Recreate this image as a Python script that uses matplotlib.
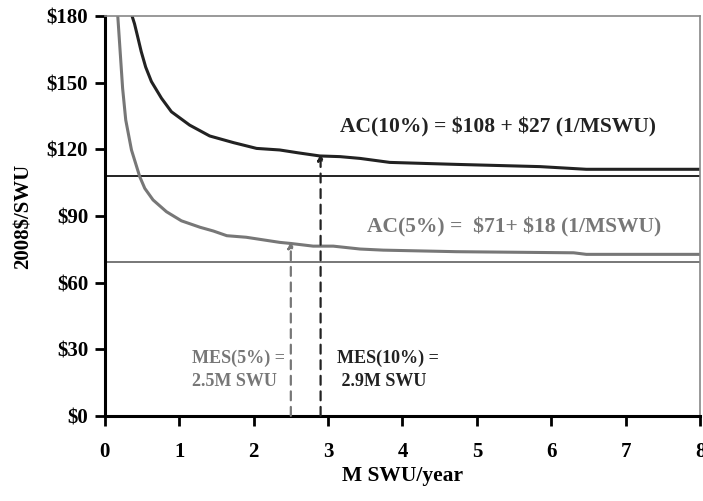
import matplotlib.pyplot as plt

# values
x_10 = [0.367, 0.40, 0.44, 0.49, 0.55, 0.627, 0.762, 0.896, 1.14, 1.41, 1.73, 2.04, 2.35, 2.6, 2.89,
        3.16, 3.43, 3.83, 4.73, 5.85, 6.47, 8.0]
ac_10 = [180, 176.5, 171.0, 164.0, 157.0, 150.5, 143.0, 136.9, 130.9, 126.0, 123.0, 120.4, 119.7, 118.4, 117.0,
         116.7, 115.9, 114.1, 113.2, 112.2, 111.0, 111.0]
x_5 = [0.175, 0.195, 0.215, 0.24, 0.282, 0.359, 0.47, 0.538, 0.649, 0.829, 1.03, 1.28, 1.46, 1.64, 1.9, 2.35,
       2.5, 2.8, 3.07, 3.43, 3.74, 4.73, 6.3, 6.47, 8.0]
ac_5 = [180, 170.0, 160.0, 147.5, 133.2, 119.7, 107.7, 102.4, 97.2, 91.9, 87.8, 84.9, 83.2, 81.1, 80.4, 78.1,
        77.6, 76.4, 76.4, 75.1, 74.6, 73.9, 73.4, 72.7, 72.7]
floor_10 = 108.0
floor_5 = 69.4
mes_10 = (2.9, 117.9)
mes_5 = (2.5, 78.4)

dark = "#222222"
grey = "#777777"

plt.rcParams["font.family"] = ["Liberation Serif", "DejaVu Serif"]
plt.rcParams["font.weight"] = "bold"
plt.rcParams["axes.labelweight"] = "bold"

fig = plt.figure(figsize=(7.03, 5.01), dpi=100)
ax = fig.add_axes([0.149, 0.170, 0.847, 0.798])

ax.axhline(floor_10, color=dark, lw=1.4)
ax.axhline(floor_5, color=grey, lw=1.4)
ax.plot(x_10, ac_10, color=dark, lw=2.2, solid_joinstyle="round")
ax.plot(x_5, ac_5, color=grey, lw=2.2, solid_joinstyle="round")

for (mx, my), c in [(mes_5, grey), (mes_10, dark)]:
    ax.annotate("", xy=(mx, my), xytext=(mx, 0),
                arrowprops=dict(arrowstyle="-|>", color=c, lw=1.6, ls=(0, (4, 3)),
                                mutation_scale=9, shrinkA=0, shrinkB=0))

ax.text(3.16, 130, "AC(10%) = \\$108 + \\$27 (1/MSWU)", color=dark, fontsize=15.5, va="center")
ax.text(3.52, 85, "AC(5%) =  \\$71+ \\$18 (1/MSWU)", color=grey, fontsize=15.5, va="center")
ax.text(1.17, 20.6, "MES(5%) =\n2.5M SWU", color=grey, fontsize=13, va="center", linespacing=1.45)
ax.text(3.12, 20.6, "MES(10%) =\n 2.9M SWU", color=dark, fontsize=13, va="center", linespacing=1.45)

ax.set_xlim(0, 8)
ax.set_ylim(0, 180)
ax.set_xticks(range(0, 9))
ax.set_yticks(range(0, 181, 30))
ax.set_yticklabels(["\\$%d" % v for v in range(0, 181, 30)])
ax.tick_params(direction="out", length=7, width=2, labelsize=15, pad=5, colors="black")
ax.tick_params(axis="x", pad=12)

for side in ["left", "bottom"]:
    ax.spines[side].set_linewidth(2.2)
    ax.spines[side].set_color("black")
for side in ["top", "right"]:
    ax.spines[side].set_linewidth(1.2)
    ax.spines[side].set_color("#888888")

ax.set_xlabel("M SWU/year", fontsize=15.5, labelpad=3)
ax.set_ylabel("2008\\$/SWU", fontsize=15, labelpad=9)

fig.savefig("out.png", dpi=100)
